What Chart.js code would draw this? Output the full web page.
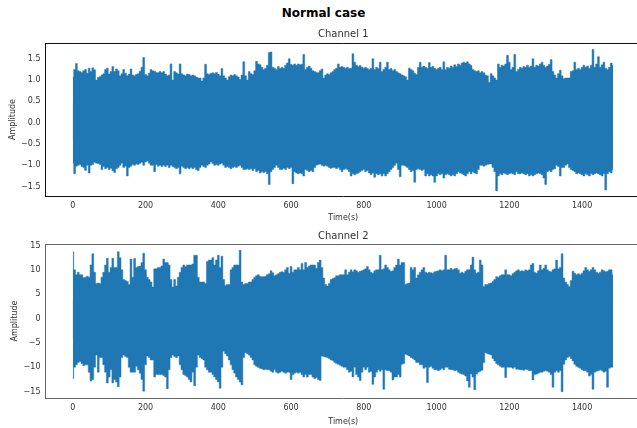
<!DOCTYPE html>
<html>
<head>
<meta charset="utf-8">
<script src="https://cdn.jsdelivr.net/npm/chart.js@4"></script>
<style>
html,body{margin:0;padding:0;background:#fff;width:637px;height:428px;overflow:hidden}
#wrap{position:relative;width:637px;height:428px;overflow:hidden}
canvas{position:absolute;left:0}
#t{position:absolute;left:0;width:647px;top:6px;text-align:center;font:bold 12px "DejaVu Sans";color:#000}
</style>
</head>
<body>
<div id="wrap">
<div id="t">Normal case</div>
<canvas id="c1" style="top:0"></canvas>
<canvas id="c2" style="top:225px"></canvas>
</div>
<script>
const figureTitle = "Normal case";
const xTicks = [0,200,400,600,800,1000,1200,1400];
const yTicks1 = [-1.5,-1.0,-0.5,0.0,0.5,1.0,1.5];
const yTicks2 = [-15,-10,-5,0,5,10,15];
const sampleSeconds = 5;

const ch1Upper = [
1.07,1.25,1.39,1.22,1.2,1.18,1.22,1.25,1.16,1.28,1.2,1.29,1.24,1.0,1.06,1.08,1.12,1.15,1.25,1.28,
1.14,1.2,1.32,1.2,1.26,1.22,1.1,1.15,1.25,1.16,1.1,1.14,1.26,1.12,1.1,1.13,1.15,1.21,1.3,1.53,
1.13,1.1,1.16,1.25,1.22,1.21,1.18,1.17,1.2,1.17,1.2,1.14,1.1,1.12,1.38,1.0,1.2,1.17,1.14,1.38,
1.15,1.12,1.1,1.14,1.13,1.1,1.12,1.1,1.07,1.05,1.05,0.98,1.05,1.37,1.15,1.13,1.16,1.17,1.15,1.18,
1.14,1.1,1.27,1.1,1.05,1.0,1.08,1.12,1.1,1.13,1.1,1.07,1.02,1.12,1.43,1.1,1.0,1.2,1.15,1.13,
1.22,1.44,1.38,1.36,1.3,1.25,1.28,1.35,1.65,1.66,1.3,1.28,1.25,1.32,1.27,1.3,1.28,1.35,1.4,1.5,
1.37,1.35,1.38,1.35,1.38,1.36,1.37,1.6,1.25,1.3,1.33,1.28,1.22,1.2,1.18,1.17,1.22,1.26,1.05,1.12,
1.15,1.13,1.17,1.2,1.25,1.28,1.38,1.3,1.32,1.3,1.28,1.3,1.27,1.28,1.62,1.42,1.35,1.32,1.34,1.3,
1.28,1.3,1.27,1.25,1.27,1.5,1.25,1.3,1.27,1.42,1.2,1.25,1.3,1.42,1.25,1.27,1.22,1.25,1.2,1.17,
1.15,1.12,1.1,1.08,1.0,1.28,1.25,1.22,1.16,1.13,1.3,1.42,1.3,1.33,1.3,1.28,1.41,1.3,1.32,1.28,
1.25,1.28,1.3,1.25,1.43,1.25,1.3,1.28,1.33,1.3,1.36,1.32,1.38,1.35,1.4,1.42,1.4,1.43,1.38,1.34,
1.25,1.22,1.2,1.22,1.17,1.2,1.17,1.12,1.1,0.95,1.15,1.1,1.05,1.0,1.38,1.3,1.35,1.33,1.38,1.58,
1.42,1.25,1.3,1.6,1.2,1.25,1.3,1.28,1.32,1.3,1.35,1.3,1.33,1.5,1.3,1.35,1.33,1.38,1.42,1.35,
1.3,1.33,1.37,1.48,1.2,1.12,1.05,1.15,1.23,1.1,1.03,1.05,1.05,1.05,1.2,1.22,1.42,1.25,1.28,1.25,
1.3,1.35,1.3,1.33,1.28,1.35,1.72,1.3,1.38,1.55,1.3,1.36,1.42,1.28,1.25,1.3,1.4,1.35];
const ch1Lower = [
-0.95,-1.2,-1.02,-1.0,-0.98,-1.03,-1.05,-1.12,-1.0,-1.18,-1.0,-0.98,-0.93,-0.95,-0.96,-0.98,-1.1,-1.03,-1.08,-1.05,
-1.1,-1.07,-1.13,-1.17,-1.08,-1.05,-1.0,-0.95,-1.05,-1.02,-1.25,-1.05,-1.02,-0.98,-1.0,-0.97,-0.98,-0.95,-0.93,-1.0,
-0.92,-0.9,-0.95,-1.0,-1.0,-1.15,-0.98,-1.02,-1.0,-1.03,-1.0,-1.03,-1.0,-1.05,-1.0,-1.03,-1.05,-1.08,-1.05,-1.2,
-1.02,-1.05,-1.08,-1.06,-1.08,-1.05,-1.08,-1.05,-1.1,-1.12,-1.05,-1.0,-1.03,-1.05,-1.0,-0.97,-0.92,-0.96,-1.0,-0.98,
-1.0,-0.97,-0.95,-1.0,-1.05,-1.03,-1.05,-1.08,-1.05,-1.03,-1.05,-1.02,-1.0,-1.05,-1.1,-1.1,-1.08,-1.1,-1.08,-1.12,
-1.08,-1.15,-1.12,-1.18,-1.15,-1.17,-1.15,-1.2,-1.45,-1.15,-1.1,-1.05,-1.0,-1.05,-1.1,-1.1,-1.07,-1.1,-1.05,-1.08,
-1.05,-1.43,-1.15,-1.18,-1.2,-1.18,-1.2,-1.25,-1.1,-1.12,-1.15,-1.12,-1.15,-1.05,-1.0,-0.98,-0.97,-1.0,-1.02,-1.0,
-1.02,-1.05,-1.07,-1.05,-1.05,-1.08,-1.05,-1.1,-1.15,-1.1,-1.08,-1.1,-1.15,-1.25,-1.2,-1.22,-1.2,-1.18,-1.15,-1.12,
-1.1,-1.15,-1.12,-1.18,-1.22,-1.18,-1.28,-1.2,-1.22,-1.2,-1.25,-1.2,-1.25,-1.2,-1.15,-1.1,-1.05,-1.0,-0.95,-1.1,
-1.27,-1.0,-1.0,-1.02,-1.05,-1.1,-1.15,-1.12,-1.4,-1.1,-1.08,-1.1,-1.12,-1.1,-1.25,-1.2,-1.25,-1.22,-1.25,-1.4,
-1.25,-1.2,-1.22,-1.2,-1.3,-1.22,-1.2,-1.22,-1.25,-1.22,-1.25,-1.2,-1.15,-1.18,-1.2,-1.22,-1.25,-1.2,-1.15,-1.2,
-1.15,-1.18,-1.2,-1.1,-1.0,-1.0,-1.02,-1.0,-0.98,-0.97,-0.97,-1.05,-1.15,-1.6,-1.25,-1.2,-1.22,-1.18,-1.2,-1.22,
-1.2,-1.18,-1.2,-1.22,-1.15,-1.2,-1.2,-1.18,-1.2,-1.22,-1.2,-1.25,-1.22,-1.25,-1.22,-1.2,-1.18,-1.2,-1.22,-1.3,
-1.45,-1.15,-1.12,-1.15,-1.1,-1.08,-1.0,-1.03,-1.25,-1.05,-1.05,-1.0,-0.97,-1.05,-1.1,-1.12,-1.15,-1.2,-1.18,-1.2,
-1.22,-1.25,-1.2,-1.22,-1.25,-1.2,-1.22,-1.2,-1.18,-1.2,-1.22,-1.25,-1.2,-1.58,-1.2,-1.15,-1.18,-1.1];
const ch2Upper = [
13.7,10,9,9.5,9,9,8.4,8.5,8.7,8.5,11,13.3,9.5,7.2,7.3,7.2,8.5,9.5,11,12.4,
9.5,10.5,12.4,10.5,10.5,13.7,12.5,10,8,7.8,7.6,7,12.2,8.5,12.3,10.5,10.7,10.8,11.5,13.4,
10,8.5,8,7.5,6.5,10.2,10.2,10.5,10.5,10.8,12.2,11.5,11.5,11,8,6.5,8,6.7,8.5,9.5,
10.5,11,10.7,11,11,11,11.2,13,13,8.5,7.5,7.5,7.5,7.2,11.7,12,12,12.5,11,12,
13,10.5,12.8,8,6.8,7,7,10,10.5,11,11,11,14,7.5,7,7.2,7.2,7.5,7.5,8,
8.5,8.8,9,8.7,8.6,8.6,8.7,9,9.2,9.8,9.4,8.8,9,9.2,9.5,9.6,9.5,10,10.5,9.3,
10.7,9.5,10,10,10.5,10,11.3,10,11.5,10.5,10.8,11,11,11,10.3,11.5,12,10.5,8.3,7,
6.7,7.2,8,8.2,8.4,8.8,8.8,9,9,9,10,9,9.5,10,9.6,10,9.8,9.5,9.7,9.8,
10,10.2,10.7,10,9.5,9.3,9.8,10,10,13,10,10.2,11,10.5,10,9.7,9.8,10.5,11,12.2,
11,11.5,11.5,7,7.2,7.3,10.5,10,10.5,8.3,9,9.5,10,10.5,9.5,9.3,9.5,9.4,9.3,9.6,
9.7,9.8,10,9.8,10,13,10,10,10.3,10,10.2,10.3,10,9.3,9.5,9.3,9.7,10,10,11,
12.6,10,9.3,9.5,12,11,6.6,7,7,7.2,7.3,7.6,8,8.6,8.5,8.8,9,9,10,9,
9,8.8,9.2,9.5,9.8,10,9.7,9.8,9.7,10,9.8,10,11,11.3,9.5,9.3,9.8,11,10,10.3,
11,10,9.7,9.6,10,10.2,12,10.2,10.5,13.3,8.3,7.5,7,6.6,7.8,9.7,9.3,9,9.2,9,
9.3,9.8,10.5,10,9.7,10,10.5,10,9.5,9.3,9.5,10,9.8,9.6,9.7,10,10,9];
const ch2Lower = [
-12.3,-10,-9.5,-9,-8.8,-9.2,-9.7,-9.5,-9.5,-11,-12.8,-12.5,-10,-7.5,-11,-8,-8,-9.5,-11,-13.2,
-12,-10.5,-13.2,-12.5,-13,-14,-12,-8,-7.5,-7.8,-8,-10,-11,-11,-11,-9.8,-10.5,-11.2,-12.5,-14.9,
-9.5,-7.7,-8,-8.5,-8.5,-12,-11.5,-11.5,-11.5,-11.5,-11.7,-12,-14.4,-10.5,-8,-7.5,-7.8,-8,-7.7,-9.5,
-10.5,-11.5,-11.7,-12,-12.5,-13,-11,-13.8,-10,-7.5,-8,-8.2,-8.5,-10,-10.5,-11,-11,-11.5,-12,-12.5,
-13,-14.3,-10,-6.7,-7.2,-7.7,-8.5,-9.5,-10.5,-11.2,-12,-12.5,-13,-13.6,-8,-7,-7.2,-7.5,-8,-8.5,
-9.5,-9.8,-10,-10.2,-10.3,-10.5,-10.4,-10.5,-10.5,-10.8,-11,-10.5,-11,-11.2,-11,-10.8,-11,-11.2,-11,-11,
-12.5,-11.5,-11.2,-11,-11.2,-11,-11.5,-12,-11.5,-12,-11.5,-11.5,-12,-12.3,-12.1,-12.5,-12.7,-7.7,-7.8,-7.9,
-8,-8.2,-8.5,-8.6,-9,-9.2,-9.4,-9.6,-9.8,-10,-10,-10.5,-11,-10.8,-12,-10,-11.5,-12,-12.7,-11,
-10,-10.5,-10,-11,-10.8,-13.5,-12,-11,-10.5,-10.8,-10.5,-14.5,-10.5,-10.7,-10.7,-11,-12.6,-12,-12,-11.5,
-12,-9.4,-9.2,-7.3,-7.5,-7.7,-8,-8.2,-8.5,-9,-9,-9.5,-9.5,-10.2,-10,-13.1,-10,-9.8,-10.2,-10.5,
-10.5,-10.7,-10.5,-10.2,-10.5,-10,-10,-10.4,-10.5,-10.5,-10.7,-10.6,-11,-11.2,-11.4,-11.5,-11.8,-12.8,-14.1,-11.4,
-12,-14.6,-11.4,-11,-10.8,-10.6,-9,-7,-7.2,-7.3,-7.5,-8.2,-8.7,-9.2,-9.5,-9.8,-10,-10,-12.1,-10,
-10,-10,-10.2,-10,-10.4,-10.4,-10.5,-10.5,-10.6,-10.4,-10.5,-10.7,-10.7,-12.6,-11.5,-11.4,-11.2,-11,-11,-10.8,
-10.7,-10.8,-11,-11.5,-14.1,-11,-10.7,-11,-10.7,-15,-9.4,-8.5,-8,-7.8,-8.2,-8.7,-9.4,-9.8,-10,-10.2,
-10.5,-10.7,-10.7,-11,-11.8,-11.5,-14.5,-11,-10.8,-10.7,-10.5,-10.7,-11,-10.8,-14.1,-10.2,-10,-10];

const BLUE = "#1f77b4";
const FONT = "DejaVu Sans";
const INK = "#333";
const LEFT = 45.5, RIGHT_GAP = 19;
const pts = v => v.map((y, i) => ({x: i * sampleSeconds, y}));
const fmt1 = v => (v < 0 ? "\u2212" : "") + Math.abs(v).toFixed(1);
const fmt2 = v => (v < 0 ? "\u2212" : "") + Math.abs(v);

const topSpine = {
  id: "topSpine",
  afterDraw(c, _a, o) {
    const g = c.ctx, a = c.chartArea;
    g.save(); g.strokeStyle = o.color; g.lineWidth = 1;
    g.beginPath(); g.moveTo(a.left, Math.round(a.top) + 0.5); g.lineTo(a.right, Math.round(a.top) + 0.5); g.stroke();
    g.restore();
  }
};

function make(id, h, up, lo, title, yMin, yMax, yTicks, fmt, spine, top, bottomH, titlePad, ampPad) {
  const el = document.getElementById(id);
  el.style.width = "660px"; el.style.height = h + "px";
  const series = (data, target) => ({
    data, stepped: "middle", fill: { value: target },
    borderColor: BLUE, backgroundColor: BLUE, borderWidth: 0.5,
    pointRadius: 0, pointHoverRadius: 0, tension: 0
  });
  return new Chart(el, {
    type: "line",
    data: { datasets: [series(up, yMin / 4), series(lo, yMax / 4)] },
    plugins: [topSpine],
    options: {
      responsive: false, animation: false, devicePixelRatio: 1,
      layout: { padding: { left: 0, right: RIGHT_GAP, top: top, bottom: 0 } },
      plugins: {
        legend: { display: false }, tooltip: { enabled: false },
        title: { display: true, fullSize: false, text: title, color: INK, font: { family: FONT, size: 10, weight: "normal" }, padding: { top: 0, bottom: titlePad } },
        topSpine: { color: spine }
      },
      scales: {
        x: {
          type: "linear", min: -75, max: 1562,
          afterBuildTicks: s => { s.ticks = xTicks.map(value => ({value})); },
          afterFit: s => { s.height = bottomH; },
          grid: { display: false, drawTicks: true, tickLength: 3, tickColor: spine },
          border: { color: spine, width: 1 },
          ticks: { color: INK, font: { family: FONT, size: 8 }, maxRotation: 0, padding: 2, autoSkip: false, callback: v => String(v) },
          title: { display: true, text: "Time(s)", color: INK, font: { family: FONT, size: 8 }, padding: { top: 1, bottom: 0 } }
        },
        y: {
          type: "linear", min: yMin, max: yMax,
          afterBuildTicks: s => { s.ticks = yTicks.map(value => ({value})); },
          afterFit: s => { s.width = LEFT; },
          grid: { display: false, tickLength: 3, tickColor: spine },
          border: { color: spine, width: 1 },
          ticks: { color: INK, font: { family: FONT, size: 8 }, padding: 2, autoSkip: false, callback: fmt },
          title: { display: true, text: "Amplitude", color: INK, font: { family: FONT, size: 8 }, padding: { top: ampPad, bottom: 2 } }
        }
      }
    }
  });
}

document.getElementById("t").textContent = figureTitle;
make("c1", 223, pts(ch1Upper), pts(ch1Lower), "Channel 1", -1.72, 1.87, yTicks1, fmt1, "#111", 28, 27, 3, 8.5);
make("c2", 202, pts(ch2Upper), pts(ch2Lower), "Channel 2", -16.3, 15.3, yTicks2, fmt2, "#666", 5, 29, 2, 10.5);
</script>
</body>
</html>
